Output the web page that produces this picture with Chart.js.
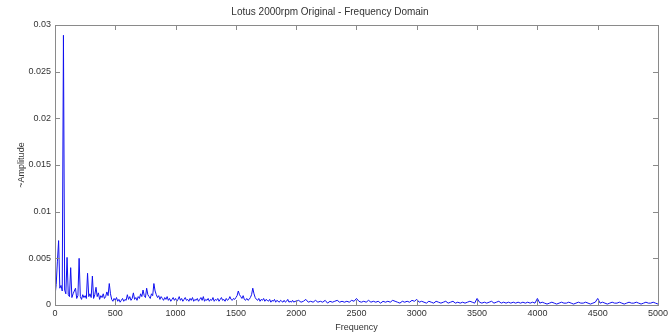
<!DOCTYPE html>
<html>
<head>
<meta charset="utf-8">
<script src="https://cdn.jsdelivr.net/npm/chart.js@4.4.1/dist/chart.umd.min.js"></script>
<style>
  html, body { margin: 0; padding: 0; background: #fff; }
  #wrap { width: 671px; height: 336px; }
</style>
</head>
<body>
<div id="wrap"><canvas id="spectrum"></canvas></div>
<script>
// Amplitude spectrum.
// Low band: 0..2000 Hz, one value every 10 Hz
const lowStartHz = 0;
const lowStepHz = 10;
const ampLow = [
  0.0010, 0.0022, 0.0047, 0.0069, 0.0018, 0.0021, 0.0015, 0.0289, 0.0016, 0.0012,
  0.0051, 0.0011, 0.0009, 0.0040, 0.0008, 0.0012, 0.0015, 0.0018, 0.0007, 0.0010,
  0.0050, 0.0009, 0.0006, 0.0011, 0.0008, 0.0010, 0.0007, 0.0034, 0.0009, 0.0012,
  0.0008, 0.0031, 0.0007, 0.0011, 0.0019, 0.0009, 0.0013, 0.0006, 0.0010, 0.0008,
  0.0012, 0.0007, 0.0009, 0.0014, 0.0010, 0.0023, 0.0012, 0.0006, 0.0004, 0.0007,
  0.0005, 0.0008, 0.0004, 0.0006, 0.0003, 0.0005, 0.0007, 0.0004, 0.0006, 0.0005,
  0.0011, 0.0006, 0.0009, 0.0005, 0.0007, 0.0013, 0.0006, 0.0008, 0.0005, 0.0009,
  0.0007, 0.0012, 0.0009, 0.0016, 0.0010, 0.0008, 0.0018, 0.0011, 0.0009, 0.0007,
  0.0012, 0.0010, 0.0023, 0.0015, 0.0011, 0.0008, 0.0010, 0.0006, 0.0009, 0.0007,
  0.0005, 0.0008, 0.0006, 0.0009, 0.0005, 0.0007, 0.0004, 0.0006, 0.0008, 0.0005,
  0.0007, 0.0004, 0.0006, 0.0009, 0.0005, 0.0007, 0.0004, 0.0006, 0.0008, 0.0005,
  0.0006, 0.0004, 0.0007, 0.0005, 0.0008, 0.0004, 0.0006, 0.0005, 0.0007, 0.0004,
  0.0006, 0.0008, 0.0005, 0.0009, 0.0004, 0.0006, 0.0005, 0.0007, 0.0004, 0.0006,
  0.0005, 0.0008, 0.0004, 0.0006, 0.0005, 0.0007, 0.0004, 0.0006, 0.0008, 0.0005,
  0.0006, 0.0004, 0.0007, 0.0005, 0.0006, 0.0009, 0.0006, 0.0005, 0.0007, 0.0006,
  0.0008, 0.0010, 0.0015, 0.0011, 0.0009, 0.0007, 0.0010, 0.0006, 0.0005, 0.0007,
  0.0005, 0.0006, 0.0008, 0.0011, 0.0018, 0.0012, 0.0008, 0.0006, 0.0005, 0.0007,
  0.0004, 0.0006, 0.0005, 0.0007, 0.0004, 0.0006, 0.0005, 0.0004, 0.0006, 0.0003,
  0.0005, 0.0004, 0.0006, 0.0003, 0.0005, 0.0004, 0.0003, 0.0005, 0.0004, 0.0003,
  0.0005, 0.0003, 0.0004, 0.0006, 0.0003, 0.0004, 0.0003, 0.0005, 0.0003, 0.0004,
  0.0004
];

// High band: 2020..5000 Hz, one value every 20 Hz
const highStartHz = 2020;
const highStepHz = 20;
const ampHigh = [
  0.0005, 0.0003, 0.0004, 0.0006, 0.0003, 0.0004, 0.0003, 0.0005, 0.0003, 0.0004,
  0.0003, 0.0005, 0.0002, 0.0004, 0.0003, 0.0004, 0.0005, 0.0003, 0.0004, 0.0003,
  0.0004, 0.0003, 0.0005, 0.0004, 0.0007, 0.0004, 0.0003, 0.0004, 0.0003, 0.0005,
  0.0003, 0.0004, 0.0003, 0.0004, 0.0002, 0.0004, 0.0003, 0.0004, 0.0003, 0.0005,
  0.0004, 0.0003, 0.0002, 0.0004, 0.0003, 0.0004, 0.0003, 0.0005, 0.0004, 0.0006,
  0.0003, 0.0004, 0.0003, 0.0002, 0.0004, 0.0003, 0.0002, 0.0004, 0.0003, 0.0002,
  0.0003, 0.0004, 0.0002, 0.0003, 0.0004, 0.0002, 0.0003, 0.0002, 0.0003, 0.0002,
  0.0003, 0.0004, 0.0003, 0.0002, 0.0007, 0.0003, 0.0002, 0.0003, 0.0002, 0.0003,
  0.0004, 0.0002, 0.0003, 0.0004, 0.0002, 0.0003, 0.0002, 0.0003, 0.0002, 0.0003,
  0.0002, 0.0003, 0.0002, 0.0003, 0.0002, 0.0003, 0.0002, 0.0003, 0.0002, 0.0007,
  0.0002, 0.0003, 0.0002, 0.0001, 0.0002, 0.0003, 0.0002, 0.0001, 0.0002, 0.0003,
  0.0002, 0.0002, 0.0003, 0.0002, 0.0001, 0.0002, 0.0003, 0.0002, 0.0002, 0.0003,
  0.0002, 0.0001, 0.0002, 0.0003, 0.0007, 0.0002, 0.0003, 0.0002, 0.0001, 0.0002,
  0.0003, 0.0002, 0.0002, 0.0003, 0.0002, 0.0001, 0.0002, 0.0003, 0.0002, 0.0002,
  0.0003, 0.0002, 0.0001, 0.0002, 0.0003, 0.0002, 0.0002, 0.0003, 0.0002, 0.0001
];

const xTicks = [0, 500, 1000, 1500, 2000, 2500, 3000, 3500, 4000, 4500, 5000];
const yTicks = [0, 0.005, 0.01, 0.015, 0.02, 0.025, 0.03];

const points = [];
ampLow.forEach((a, i) => points.push({ x: lowStartHz + i * lowStepHz, y: a }));
ampHigh.forEach((a, i) => points.push({ x: highStartHz + i * highStepHz, y: a }));

const FONT = "'Liberation Sans', Arial, sans-serif";
const TEXT = '#333';
const AXIS = '#8a8a8a';

// MATLAB-style box with inward tick marks on all four sides
const boxPlugin = {
  id: 'matlabBox',
  afterDraw(chart) {
    const { ctx, chartArea: a, scales } = chart;
    const len = 5;
    ctx.save();
    ctx.strokeStyle = AXIS;
    ctx.lineWidth = 1;
    ctx.strokeRect(Math.round(a.left) + 0.5, Math.round(a.top) + 0.5,
                   Math.round(a.right - a.left), Math.round(a.bottom - a.top));
    ctx.beginPath();
    scales.x.ticks.forEach(t => {
      const px = Math.round(scales.x.getPixelForValue(t.value)) + 0.5;
      ctx.moveTo(px, a.bottom); ctx.lineTo(px, a.bottom - len);
      ctx.moveTo(px, a.top); ctx.lineTo(px, a.top + len);
    });
    scales.y.ticks.forEach(t => {
      const py = Math.round(scales.y.getPixelForValue(t.value)) + 0.5;
      ctx.moveTo(a.left, py); ctx.lineTo(a.left + len, py);
      ctx.moveTo(a.right, py); ctx.lineTo(a.right - len, py);
    });
    ctx.stroke();
    ctx.restore();
  }
};

new Chart(document.getElementById('spectrum'), {
  type: 'line',
  data: {
    datasets: [{
      data: points,
      borderColor: '#1010f0',
      borderWidth: 1,
      pointRadius: 0,
      tension: 0,
      fill: false
    }]
  },
  options: {
    responsive: true,
    maintainAspectRatio: false,
    animation: false,
    layout: { padding: { left: 0, right: 11, top: 0, bottom: 0 } },
    plugins: {
      legend: { display: false },
      tooltip: { enabled: false },
      title: {
        display: true,
        text: 'Lotus 2000rpm Original - Frequency Domain',
        color: TEXT,
        font: { family: FONT, size: 10, weight: 'normal' },
        padding: { top: 6, bottom: 7 }
      }
    },
    scales: {
      x: {
        type: 'linear',
        min: 0,
        max: 5000,
        afterBuildTicks: s => { s.ticks = xTicks.map(v => ({ value: v })); },
        afterFit: s => { s.height = 31; },
        grid: { display: false, drawTicks: false, tickLength: 0 },
        border: { display: false },
        ticks: {
          color: TEXT,
          font: { family: FONT, size: 9 },
          padding: 3,
          maxRotation: 0,
          autoSkip: false,
          callback: v => String(v)
        },
        title: {
          display: true,
          text: 'Frequency',
          color: TEXT,
          font: { family: FONT, size: 9 },
          padding: { top: 0, bottom: 3 }
        }
      },
      y: {
        min: 0,
        max: 0.03,
        afterBuildTicks: s => { s.ticks = yTicks.map(v => ({ value: v })); },
        afterFit: s => { s.width = 55; },
        grid: { display: false, drawTicks: false, tickLength: 0 },
        border: { display: false },
        ticks: {
          color: TEXT,
          font: { family: FONT, size: 9 },
          padding: 4,
          autoSkip: false,
          callback: v => String(+v.toFixed(4))
        },
        title: {
          display: true,
          text: '~Amplitude',
          color: TEXT,
          font: { family: FONT, size: 9 },
          padding: { top: 16, bottom: 0 }
        }
      }
    }
  },
  plugins: [boxPlugin]
});
</script>
</body>
</html>
